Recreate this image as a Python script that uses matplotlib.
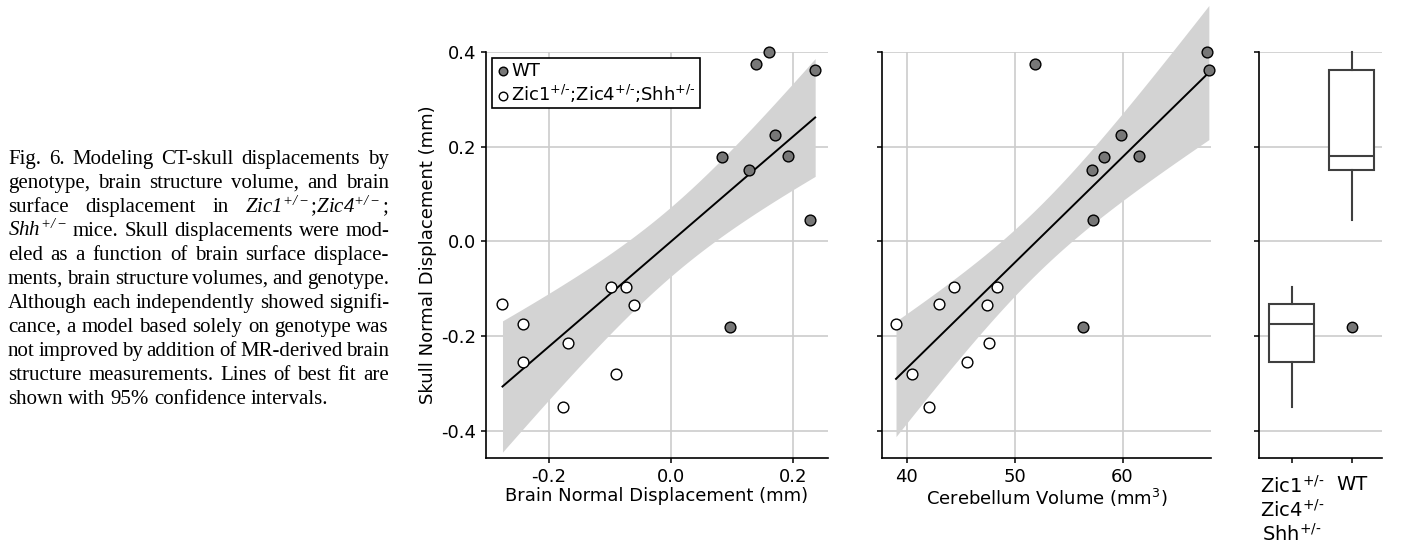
import numpy as np
import matplotlib
matplotlib.use("Agg")
import matplotlib.pyplot as plt

# data (same mouse order in every array of a group)
wt_skull = [0.399, 0.375, 0.361, 0.224, 0.178, 0.181, 0.151, 0.046, -0.181]
wt_brain = [0.160, 0.139, 0.236, 0.171, 0.083, 0.191, 0.128, 0.228, 0.096]
wt_cereb = [67.8, 51.9, 68.0, 59.9, 58.3, 61.5, 57.2, 57.3, 56.3]

mut_skull = [-0.132, -0.174, -0.255, -0.214, -0.097, -0.097, -0.134, -0.279, -0.350]
mut_brain = [-0.276, -0.243, -0.243, -0.169, -0.099, -0.073, -0.061, -0.090, -0.177]
mut_cereb = [43.0, 39.0, 45.6, 47.6, 44.4, 48.4, 47.4, 40.5, 42.1]

SUP = "$^{+/\u2010}$"
mut_label = "Zic1" + SUP + ";Zic4" + SUP + ";Shh" + SUP
box_labels = ["Zic1" + SUP + "\nZic4" + SUP + "\nShh" + SUP, "WT"]
yticks = [-0.4, -0.2, 0.0, 0.2, 0.4]

caption = [
    "Fig. 6. Modeling CT-skull displacements by",
    "genotype, brain structure volume, and brain",
    r"surface displacement in $\it{Zic1}^{+/-}$;$\it{Zic4}^{+/-}$;",
    r"$\it{Shh}^{+/-}$ mice. Skull displacements were mod-",
    "eled as a function of brain surface displace-",
    "ments, brain structure volumes, and genotype.",
    "Although each independently showed signifi-",
    "cance, a model based solely on genotype was",
    "not improved by addition of MR-derived brain",
    "structure measurements. Lines of best fit are",
    "shown with 95% confidence intervals.",
]

plt.rcParams['font.family'] = 'DejaVu Sans'
plt.rcParams['axes.unicode_minus'] = False
plt.rcParams['mathtext.fontset'] = 'dejavusans'
# used only by the caption (math_fontfamily='custom')
plt.rcParams['mathtext.rm'] = 'Liberation Serif:italic'
plt.rcParams['mathtext.it'] = 'Liberation Serif:italic'

FS = 13
CAP_FS = 15
W, H = 1402, 546
GRAY = '#777777'
GRID = '#cccccc'

fig = plt.figure(figsize=(W / 100, H / 100), dpi=100)


def px_axes(left, right, top, bottom):
    return fig.add_axes([left / W, 1 - bottom / H, (right - left) / W, (bottom - top) / H])


ax1 = px_axes(486, 828, 52, 458)
ax2 = px_axes(882, 1211, 52, 458)
ax3 = px_axes(1259, 1382, 52, 458)


def style(ax, xgrid=True):
    for s in ['top', 'right']:
        ax.spines[s].set_visible(False)
    for s in ['left', 'bottom']:
        ax.spines[s].set_linewidth(1.2)
        ax.spines[s].set_color('black')
    ax.set_axisbelow(True)
    ax.grid(True, axis='y', color=GRID, lw=1.2)
    if xgrid:
        ax.grid(True, axis='x', color=GRID, lw=1.2)
    ax.tick_params(direction='out', length=3.5, width=1.1, labelsize=FS, color='black')
    ax.set_ylim(-0.457, 0.4)
    ax.set_yticks(yticks)


def regpanel(ax, xw, xm):
    x = np.array(xw + xm)
    y = np.array(wt_skull + mut_skull)
    n = len(x)
    b, a = np.polyfit(x, y, 1)
    resid = y - (a + b * x)
    s = np.sqrt(np.sum(resid ** 2) / (n - 2))
    sxx = np.sum((x - x.mean()) ** 2)
    grid = np.linspace(x.min(), x.max(), 100)
    yhat = a + b * grid
    half = 2.12 * s * np.sqrt(1 / n + (grid - x.mean()) ** 2 / sxx)
    ax.fill_between(grid, yhat - half, yhat + half, color='#d3d3d3', lw=0, zorder=1, clip_on=False)
    ax.plot(grid, yhat, color='black', lw=1.4, zorder=2)
    ax.scatter(xw, wt_skull, s=60, c=GRAY, edgecolors='black', linewidths=1.0, zorder=3,
               clip_on=False, label='WT')
    ax.scatter(xm, mut_skull, s=60, c='white', edgecolors='black', linewidths=1.0, zorder=3,
               clip_on=False, label=mut_label)


# panel 1
style(ax1)
regpanel(ax1, wt_brain, mut_brain)
ax1.set_xlim(-0.303, 0.257)
ax1.set_xticks([-0.2, 0.0, 0.2])
ax1.set_xlabel('Brain Normal Displacement (mm)', fontsize=FS, labelpad=1)
ax1.set_ylabel('Skull Normal Displacement (mm)', fontsize=FS, labelpad=3)
leg = ax1.legend(loc='upper left', fontsize=FS, frameon=True, fancybox=False, markerscale=0.8,
                 handletextpad=0.05, handlelength=0.8, borderpad=0.2, labelspacing=0.15,
                 borderaxespad=0.35)
leg.get_frame().set_edgecolor('black')
leg.get_frame().set_linewidth(1.2)
leg.get_frame().set_alpha(1)

# panel 2
style(ax2)
regpanel(ax2, wt_cereb, mut_cereb)
ax2.set_xlim(37.7, 68.2)
ax2.set_xticks([40, 50, 60])
ax2.set_yticklabels([])
ax2.set_xlabel('Cerebellum Volume (mm$^3$)', fontsize=FS, labelpad=1)

# panel 3
style(ax3, xgrid=False)
bp = ax3.boxplot([mut_skull, wt_skull], positions=[0, 1], widths=0.75, whis=1.5,
                 patch_artist=True, showcaps=False,
                 boxprops=dict(facecolor='white', edgecolor='#3f3f3f', lw=1.5),
                 whiskerprops=dict(color='#3f3f3f', lw=1.5),
                 medianprops=dict(color='#3f3f3f', lw=1.5),
                 flierprops=dict(marker='o', markerfacecolor=GRAY, markeredgecolor='black',
                                 markersize=7.5, markeredgewidth=1.0))
for artist in bp['whiskers'] + bp['fliers']:
    artist.set_clip_on(False)
ax3.set_xlim(-0.545, 1.5)
ax3.set_xticks([0, 1])
ax3.set_xticklabels(box_labels, fontsize=14, linespacing=1.1)
ax3.tick_params(axis='x', pad=9)
ax3.set_yticklabels([])

# caption, justified like the journal text
renderer = fig.canvas.get_renderer()
x0, x1 = 8, 389
base0, step = 164, 24.0
for i, line in enumerate(caption):
    words = line.split(' ')
    ypos = 1 - (base0 + i * step) / H
    texts = [fig.text(0, ypos, w, fontsize=CAP_FS, family='Liberation Serif', va='baseline',
                      math_fontfamily='custom') for w in words]
    widths = [t.get_window_extent(renderer).width for t in texts]
    if i < len(caption) - 1 and len(words) > 1:
        gap = (x1 - x0 - sum(widths)) / (len(words) - 1)
    else:
        gap = 0.25 * CAP_FS * 100 / 72
    xpos = x0
    for t, w in zip(texts, widths):
        t.set_x(xpos / W)
        xpos += w + gap

fig.savefig('out.png', dpi=100)
